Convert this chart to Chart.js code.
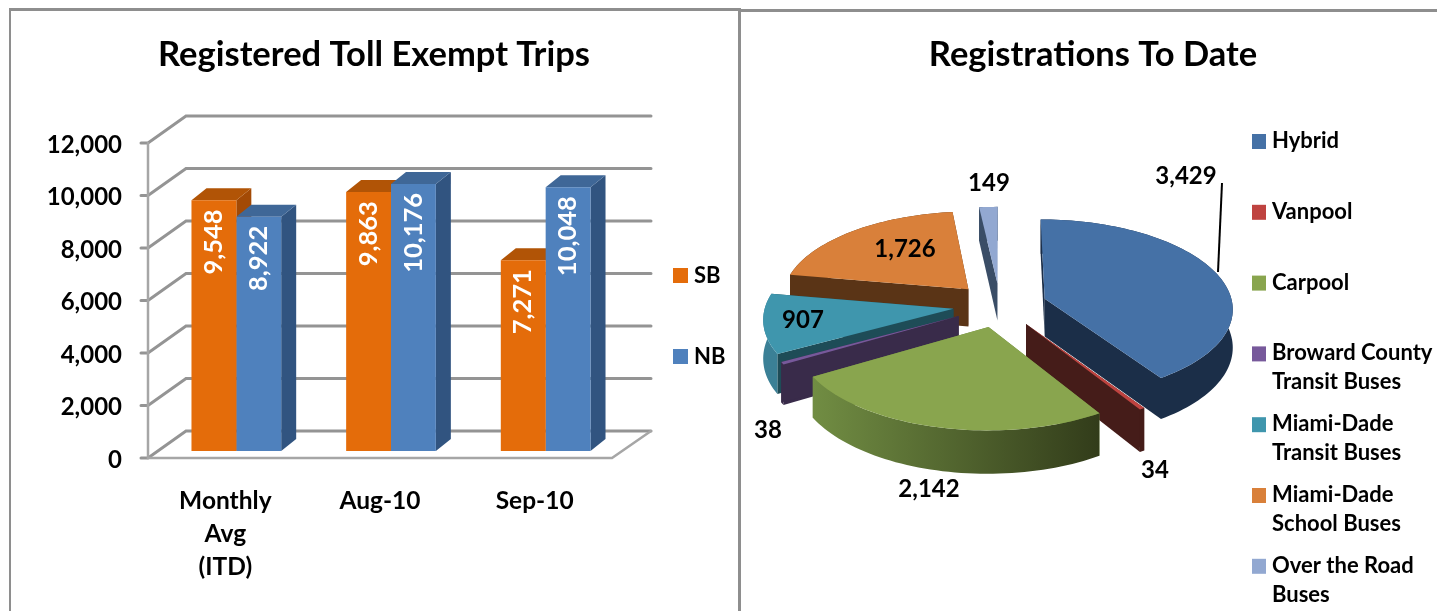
<!DOCTYPE html>
<html>
<head>
<meta charset="utf-8">
<title>Toll Exempt Trips</title>
<script src="https://cdn.jsdelivr.net/npm/chart.js@4"></script>
<style>
    html, body { margin: 0; padding: 0; background: #fff; overflow: hidden; }
    canvas { position: absolute; top: 0; }
    #tripsChart { left: 0; }
    #registrationsChart { left: 740px; }
    .rule { position: absolute; background: #8e8e8e; }
</style>
</head>
<body>
<div class="rule" style="left:9px;top:8px;width:731px;height:3px"></div>
<div class="rule" style="left:9px;top:8px;width:2px;height:603px"></div>
<div class="rule" style="left:738px;top:8px;width:3px;height:603px"></div>
<div class="rule" style="left:740px;top:9px;width:697px;height:3px"></div>
<canvas id="tripsChart" width="739" height="611"></canvas>
<canvas id="registrationsChart" width="697" height="611"></canvas>
<script>
const tripCategories = [['Monthly', 'Avg', '(ITD)'], 'Aug-10', 'Sep-10'];
const sbTrips = [9548, 9863, 7271];
const nbTrips = [8922, 10176, 10048];
const tripTicks = [0, 2000, 4000, 6000, 8000, 10000, 12000];

const vehicleTypes = [
    'Hybrid',
    'Vanpool',
    'Carpool',
    ['Broward County', 'Transit Buses'],
    ['Miami-Dade', 'Transit Buses'],
    ['Miami-Dade', 'School Buses'],
    ['Over the Road', 'Buses']
];
const registrations = [3429, 34, 2142, 38, 907, 1726, 149];

const FONT = 'Lato, sans-serif';
const fmt = v => v.toLocaleString('en-US');

// slice colours: top face, cut face, outer wall (wall can run left to right)
const sliceTop = ['#4571a6', '#bf4340', '#89a54e', '#77599b', '#3f96ad', '#d9803a', '#92a8d1'];
const sliceCut = ['#1b2e48', '#451c19', '#6f8a41', '#392b4a', '#1e4c57', '#5a3416', '#3a4d66'];
const sliceWall = [
    ['#1b2e48', '#1b2e48'], ['#451c19', '#451c19'], ['#718d43', '#323c1a'], ['#392b4a', '#392b4a'],
    ['#3b8096', '#3b8096'], ['#5a3416', '#5a3416'], ['#3a4d66', '#3a4d66']
];
// where each value label sits, measured from the pie centre
const sliceLabelSpots = [[186, -129], [155, 165], [-71, 184], [-232, 125], [-197, 15], [-95, -56], [-11, -122]];

// the native title is always centred on the plot, move it back over its panel
const titlePlacer = {
    id: 'titlePlacer',
    afterLayout(chart, args, opts) {
        chart.titleBlock.left = 0;
        chart.titleBlock.right = opts.center * 2;
    }
};

// ---- bar chart: walls, floor, bar depth, value labels, legend ----
const FRONT = { x: -11, y: 7 };
const BACK = { x: 27, y: -20 };
const BAR_DEPTH = { x: 15, y: -12 };
const barSides = ['#a34a05', '#315480'];
const barTops = ['#b15406', '#3f6797'];

const barBox = {
    id: 'barBox',
    beforeDatasetsDraw(chart) {
        const { ctx, chartArea: area, scales: { y } } = chart;
        const fx0 = area.left + FRONT.x, fx1 = area.right + FRONT.x;
        const bx0 = area.left + BACK.x, bx1 = area.right + BACK.x + 1;
        ctx.save();
        ctx.lineCap = 'round';
        ctx.strokeStyle = '#949494';
        ctx.lineWidth = 3;
        tripTicks.forEach(v => {
            const py = y.getPixelForValue(v);
            ctx.beginPath();
            ctx.moveTo(fx0 - 7, py + FRONT.y);
            ctx.lineTo(fx0, py + FRONT.y);
            ctx.lineTo(bx0, py + BACK.y);
            ctx.lineTo(bx1, py + BACK.y);
            ctx.stroke();
        });
        const zero = y.getPixelForValue(0);
        ctx.lineWidth = 2.5;
        ctx.strokeStyle = '#a6a6a6';
        ctx.beginPath();
        ctx.moveTo(fx0, y.getPixelForValue(12000) + FRONT.y);
        ctx.lineTo(fx0, zero + FRONT.y);
        ctx.lineTo(fx1, zero + FRONT.y);
        ctx.lineTo(bx1, zero + BACK.y);
        ctx.stroke();

        // depth faces, the library paints the front faces over them
        tripCategories.forEach((c, i) => {
            chart.data.datasets.forEach((ds, d) => {
                const bar = chart.getDatasetMeta(d).data[i];
                const x1 = bar.x + bar.width / 2, x0 = bar.x - bar.width / 2;
                ctx.fillStyle = barSides[d];
                ctx.beginPath();
                ctx.moveTo(x1, bar.y);
                ctx.lineTo(x1 + BAR_DEPTH.x, bar.y + BAR_DEPTH.y);
                ctx.lineTo(x1 + BAR_DEPTH.x, bar.base + BAR_DEPTH.y);
                ctx.lineTo(x1, bar.base);
                ctx.closePath();
                ctx.fill();
                ctx.fillStyle = barTops[d];
                ctx.beginPath();
                ctx.moveTo(x0, bar.y);
                ctx.lineTo(x0 + BAR_DEPTH.x, bar.y + BAR_DEPTH.y);
                ctx.lineTo(x1 + BAR_DEPTH.x, bar.y + BAR_DEPTH.y);
                ctx.lineTo(x1, bar.y);
                ctx.closePath();
                ctx.fill();
            });
        });
        ctx.restore();
    },
    afterDatasetsDraw(chart) {
        const { ctx } = chart;
        ctx.save();
        ctx.font = 'bold 25.5px ' + FONT;
        ctx.fillStyle = '#fff';
        ctx.textAlign = 'right';
        ctx.textBaseline = 'middle';
        chart.data.datasets.forEach((ds, d) => {
            chart.getDatasetMeta(d).data.forEach((bar, i) => {
                ctx.save();
                ctx.translate(bar.x, bar.y + 9);
                ctx.rotate(-Math.PI / 2);
                ctx.fillText(fmt(ds.data[i]), 0, 0);
                ctx.restore();
            });
        });
        // legend
        const rows = [275, 356];
        ctx.textAlign = 'left';
        ctx.font = 'bold 22px ' + FONT;
        chart.data.datasets.forEach((ds, d) => {
            ctx.fillStyle = ds.backgroundColor;
            ctx.fillRect(673, rows[d] - 7, 15, 15);
            ctx.fillStyle = '#000';
            ctx.fillText(ds.label, 694, rows[d] + 1);
        });
        ctx.restore();
    }
};

new Chart(document.getElementById('tripsChart'), {
    type: 'bar',
    data: {
        labels: tripCategories,
        datasets: [
            { label: 'SB', data: sbTrips, backgroundColor: '#e46c0a' },
            { label: 'NB', data: nbTrips, backgroundColor: '#4f81bd' }
        ]
    },
    options: {
        responsive: false,
        animation: false,
        layout: { padding: { left: 0, right: 116, top: 0, bottom: 28 } },
        categoryPercentage: 0.58,
        barPercentage: 1,
        scales: {
            x: {
                afterFit(scale) { scale.height = 132; },
                grid: { display: false, drawTicks: false },
                border: { display: false },
                ticks: {
                    color: '#000',
                    font: { family: FONT, weight: 'bold', size: 24.5, lineHeight: 1.347 },
                    labelOffset: FRONT.x,
                    padding: 34,
                    maxRotation: 0,
                    autoSkip: false
                }
            },
            y: {
                min: 0,
                max: 12000,
                afterFit(scale) { scale.width = 159; },
                afterBuildTicks(scale) { scale.ticks = tripTicks.map(value => ({ value })); },
                grid: { display: false, drawTicks: false },
                border: { display: false },
                ticks: {
                    color: '#000',
                    font: { family: FONT, weight: 'bold', size: 24 },
                    labelOffset: FRONT.y + 2,
                    padding: 37,
                    callback: v => fmt(v)
                }
            }
        },
        plugins: {
            legend: { display: false },
            tooltip: { enabled: false },
            title: {
                display: true,
                text: 'Registered Toll Exempt Trips',
                color: '#000',
                font: { family: FONT, weight: 'bold', size: 34.5, lineHeight: 1.2 },
                padding: { top: 34.5, bottom: 60.1 }
            },
            titlePlacer: { center: 374 }
        }
    },
    plugins: [titlePlacer, barBox]
});

// ---- pie: angles come from the library's arcs, drawn tilted with some perspective ----
const EXPLODE = 47;
const TILT = 0.47;
const VIEW = 1880;
const THICK = 38;

const pie3d = {
    id: 'pie3d',
    beforeDatasetsDraw(chart) {
        const { ctx } = chart;
        const arcs = chart.getDatasetMeta(0).data;
        const cx = arcs[0].x, cy = arcs[0].y;

        const project = (gx, gz, h) => {
            const s = 1 / (1 - gz / VIEW);
            return { x: cx + gx * s, y: cy + gz * TILT * s + (h || 0) * s };
        };

        const slices = arcs.map((arc, i) => {
            const mid = (arc.startAngle + arc.endAngle) / 2;
            const ox = Math.cos(mid) * EXPLODE, oz = Math.sin(mid) * EXPLODE;
            const steps = Math.max(2, Math.ceil((arc.endAngle - arc.startAngle) / 0.03));
            const rim = [];
            for (let k = 0; k <= steps; k++) {
                const a = arc.startAngle + (arc.endAngle - arc.startAngle) * k / steps;
                rim.push({ gx: ox + Math.cos(a) * arc.outerRadius, gz: oz + Math.sin(a) * arc.outerRadius });
            }
            return { i, ox, oz, rim };
        });

        // band hanging under a run of top-face points
        const fillBand = (run, color) => {
            ctx.fillStyle = color;
            ctx.beginPath();
            run.forEach((r, k) => {
                const p = project(r.gx, r.gz);
                if (k === 0) ctx.moveTo(p.x, p.y);
                else ctx.lineTo(p.x, p.y);
            });
            run.slice().reverse().forEach(r => {
                const p = project(r.gx, r.gz, THICK);
                ctx.lineTo(p.x, p.y);
            });
            ctx.closePath();
            ctx.fill();
        };

        ctx.save();
        // back slices first so the front ones cover them
        slices.slice().sort((a, b) => a.oz - b.oz).forEach(sl => {
            const apex = { gx: sl.ox, gz: sl.oz };
            fillBand([apex, sl.rim[0]], sliceCut[sl.i]);
            fillBand([apex, sl.rim[sl.rim.length - 1]], sliceCut[sl.i]);

            const xs = sl.rim.map(r => project(r.gx, r.gz).x);
            const wall = ctx.createLinearGradient(Math.min(...xs), 0, Math.max(...xs), 0);
            wall.addColorStop(0, sliceWall[sl.i][0]);
            wall.addColorStop(1, sliceWall[sl.i][1]);
            fillBand(sl.rim, wall);

            ctx.fillStyle = sliceTop[sl.i];
            ctx.beginPath();
            const a = project(apex.gx, apex.gz);
            ctx.moveTo(a.x, a.y);
            sl.rim.forEach(r => {
                const p = project(r.gx, r.gz);
                ctx.lineTo(p.x, p.y);
            });
            ctx.closePath();
            ctx.fill();
        });

        // leader line of the biggest slice
        ctx.strokeStyle = '#000';
        ctx.lineWidth = 2;
        ctx.beginPath();
        ctx.moveTo(cx + 222, cy - 122);
        ctx.lineTo(cx + 218, cy - 33);
        ctx.stroke();

        ctx.fillStyle = '#000';
        ctx.font = 'bold 24px ' + FONT;
        ctx.textAlign = 'center';
        ctx.textBaseline = 'middle';
        registrations.forEach((v, i) => {
            ctx.fillText(fmt(v), cx + sliceLabelSpots[i][0], cy + sliceLabelSpots[i][1]);
        });

        // legend, one row every 71px, wrapped names take a second line
        ctx.textAlign = 'left';
        ctx.font = 'bold 22px ' + FONT;
        vehicleTypes.forEach((name, i) => {
            const rowY = 141 + i * 70.8;
            ctx.fillStyle = sliceTop[i];
            ctx.fillRect(1252 - 740, rowY - 7, 14, 15);
            ctx.fillStyle = '#000';
            [].concat(name).forEach((line, n) => {
                ctx.fillText(line, 1272 - 740, rowY + n * 29);
            });
        });
        ctx.restore();
        return false;
    }
};

new Chart(document.getElementById('registrationsChart'), {
    type: 'pie',
    data: {
        labels: vehicleTypes,
        datasets: [{ data: registrations, backgroundColor: sliceTop, borderWidth: 0 }]
    },
    options: {
        responsive: false,
        animation: false,
        radius: 188,
        layout: { padding: { left: 60, right: 237, top: 0, bottom: 86.9 } },
        plugins: {
            legend: { display: false },
            tooltip: { enabled: false },
            title: {
                display: true,
                text: 'Registrations To Date',
                color: '#000',
                font: { family: FONT, weight: 'bold', size: 34.5, lineHeight: 1.2 },
                padding: { top: 34.5, bottom: 10 }
            },
            titlePlacer: { center: 353 }
        }
    },
    plugins: [titlePlacer, pie3d]
});
</script>
</body>
</html>
